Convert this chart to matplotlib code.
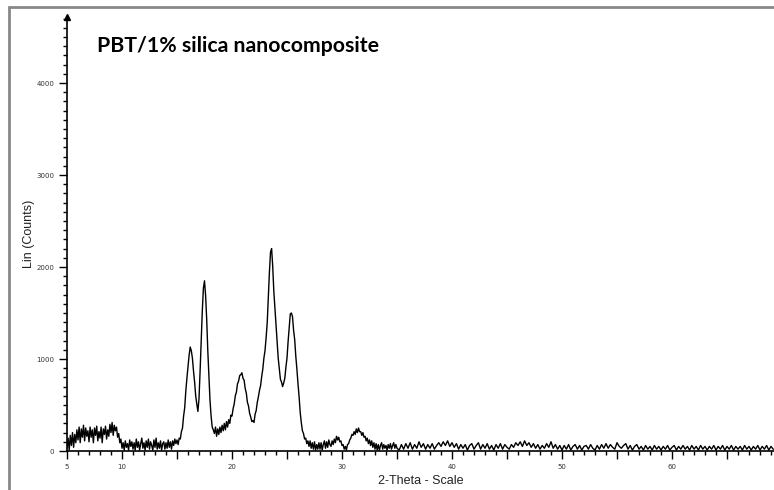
import numpy as np
import matplotlib.pyplot as plt
from matplotlib.ticker import MultipleLocator, FixedLocator, FuncFormatter
from matplotlib.patches import Rectangle

# 2-theta grid: 0.1 deg steps up to 35, then 0.2 deg steps for the flat tail
tth_fine = np.round(np.arange(5.0, 35.05, 0.1), 2)
tth_tail = np.round(np.arange(35.2, 69.25, 0.2), 2)

counts_fine = [
    30, 140, 10, 170, 60, 200, 40, 180, 90, 230,            # 5
    120, 260, 90, 240, 150, 280, 110, 250, 160, 220,        # 6
    100, 260, 150, 230, 90, 250, 170, 270, 110, 210,        # 7
    140, 260, 90, 240, 180, 270, 130, 230, 160, 290,        # 8
    200, 310, 170, 280, 220, 260, 150, 190, 90, 130,        # 9
    30, 90, 10, 110, 40, 80, 10, 120, 50, 100,              # 10
    20, 90, 10, 130, 40, 100, 10, 80, 140, 30,              # 11
    90, 10, 110, 40, 130, 20, 100, 60, 10, 120,             # 12
    40, 140, 20, 90, 30, 110, 10, 80, 100, 20,              # 13
    90, 30, 120, 40, 100, 20, 110, 60, 130, 80,             # 14
    120, 70, 140, 130, 210, 250, 380, 470, 650, 790,        # 15
    910, 1040, 1130, 1090, 1010, 870, 750, 600, 510, 430,   # 16
    570, 870, 1210, 1520, 1770, 1850, 1690, 1430, 1090, 830,  # 17
    550, 380, 260, 230, 190, 260, 160, 240, 180, 260,       # 18
    200, 280, 220, 300, 230, 320, 260, 340, 300, 390,       # 19
    380, 460, 510, 600, 640, 730, 760, 820, 830, 850,       # 20
    790, 770, 680, 630, 530, 490, 410, 370, 320, 330,       # 21
    310, 400, 440, 530, 590, 660, 710, 810, 890, 1010,      # 22
    1090, 1230, 1390, 1660, 1940, 2160, 2200, 2010, 1740, 1560,  # 23
    1370, 1210, 1010, 890, 780, 750, 700, 740, 790, 910,    # 24
    1010, 1190, 1340, 1490, 1500, 1460, 1310, 1210, 1030, 890,  # 25
    730, 590, 420, 310, 220, 190, 130, 140, 80, 110,        # 26
    50, 110, 30, 90, 20, 100, 10, 70, 20, 90,               # 27
    20, 90, 10, 70, 110, 30, 100, 40, 120, 70,              # 28
    50, 110, 70, 130, 90, 160, 120, 150, 100, 110,          # 29
    60, 70, 20, 50, 10, 70, 80, 120, 140, 180,              # 30
    170, 210, 180, 240, 200, 250, 210, 210, 170, 200,       # 31
    150, 160, 110, 140, 80, 120, 60, 110, 40, 90,           # 32
    20, 80, 10, 70, 10, 60, 90, 20, 70, 30,                 # 33
    60, 10, 70, 30, 80, 20, 60, 90, 30, 70,                 # 34
    30,
]

counts_tail = [
    10, 70, 20, 80, 30,
    90, 20, 70, 30, 100,
    40, 80, 20, 70, 30,
    80, 20, 60, 90, 50,
    100, 60, 110, 50, 90,
    40, 80, 20, 70, 30,
    70, 10, 60, 80, 20,
    60, 90, 20, 70, 30,
    80, 20, 60, 10, 70,
    30, 80, 20, 70, 40,
    20, 70, 40, 90, 60,
    100, 50, 110, 60, 90,
    40, 80, 30, 70, 20,
    60, 30, 80, 40, 100,
    30, 70, 20, 60, 10,
    60, 20, 70, 10, 50,
    70, 20, 60, 10, 50,
    60, 20, 70, 30, 10,
    60, 20, 70, 30, 80,
    30, 70, 40, 20, 90,
    50, 30, 60, 80, 20,
    60, 10, 50, 70, 20,
    50, 10, 60, 20, 50,
    10, 60, 20, 50, 10,
    50, 20, 60, 10, 40,
    60, 10, 50, 20, 60,
    20, 50, 10, 60, 20,
    50, 10, 60, 20, 50,
    10, 50, 20, 60, 10,
    50, 20, 60, 10, 50,
    20, 60, 10, 50, 20,
    50, 10, 60, 20, 50,
    10, 50, 20, 60, 10,
    50, 20, 60, 10, 50,
    20,
]

x_labels = [5, 10, 20, 30, 40, 50, 60]
y_labels = [0, 1000, 2000, 3000, 4000]

tth = np.concatenate([tth_fine, tth_tail])
counts = np.array(counts_fine + counts_tail, dtype=float)

W, H = 774, 490
fig = plt.figure(figsize=(W/100, H/100), dpi=100)
ax = fig.add_axes([67/W, (H-451)/H, (W-67)/W, (451-17)/H])

ax.plot(tth, counts, color="black", lw=1.0)

ax.set_xlim(5, 5 + (W-67)/11)
ax.set_ylim(0, (451-17)/0.092)

for s in ["top", "right"]:
    ax.spines[s].set_visible(False)
ax.spines["left"].set_linewidth(1.2)
ax.spines["bottom"].set_linewidth(1.2)

# arrow head on the intensity axis
ax.plot([0], [1], marker="^", ms=4, color="black", transform=ax.transAxes, clip_on=False)

ax.xaxis.set_major_locator(MultipleLocator(5))
ax.xaxis.set_minor_locator(MultipleLocator(1))
ax.xaxis.set_major_formatter(FuncFormatter(lambda v, p: f"{int(round(v))}" if int(round(v)) in x_labels else ""))
ax.yaxis.set_major_locator(FixedLocator(y_labels))
ax.yaxis.set_minor_locator(MultipleLocator(100))
ax.tick_params(axis="both", which="major", length=6, width=1, labelsize=5, colors="black", labelcolor="#333333", pad=3)
ax.tick_params(axis="both", which="minor", length=3, width=1, colors="black")

ax.set_xlabel("2-Theta - Scale", fontsize=9, color="#222222", labelpad=4, family="Liberation Sans")
ax.set_ylabel("Lin (Counts)", fontsize=9, color="#222222", labelpad=1, family="Liberation Sans")

fig.text(97/W, 1 - 46/H, "PBT/1% silica nanocomposite", fontsize=15.3, fontweight="bold",
         family="Lato", va="center", ha="left")

# grey frame around the figure
fig.patches.append(Rectangle((9/W, -0.1), 1.2, 1 - 7/H + 0.1, transform=fig.transFigure,
                             fill=False, edgecolor="#888888", lw=2))

fig.savefig("out.png", dpi=100)
